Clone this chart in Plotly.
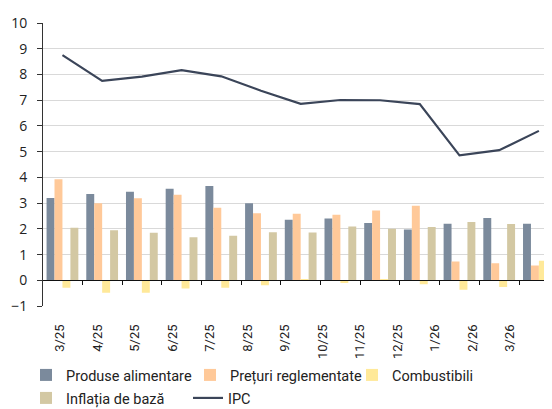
import plotly.graph_objects as go

categories = ["3/25", "4/25", "5/25", "6/25", "7/25", "8/25", "9/25", "10/25",
              "11/25", "12/25", "1/26", "2/26", "3/26"]
produse_alimentare = [3.2, 3.36, 3.45, 3.56, 3.67, 3.0, 2.36, 2.41, 2.23, 1.98, 2.2, 2.43, 2.2]
preturi_reglementate = [3.93, 3.0, 3.19, 3.33, 2.82, 2.61, 2.59, 2.55, 2.72, 2.9, 0.74, 0.67, 0.58]
combustibili = [-0.28, -0.48, -0.48, -0.31, -0.28, -0.19, 0.02, -0.1, 0.03, -0.15, -0.36, -0.25, 0.77]
inflatia_de_baza = [2.05, 1.95, 1.85, 1.68, 1.74, 1.87, 1.86, 2.1, 2.01, 2.08, 2.27, 2.19, 2.18]
ipc = [8.75, 7.75, 7.92, 8.17, 7.93, 7.37, 6.86, 7.01, 7.0, 6.85, 4.86, 5.06, 5.81]
y_ticks = list(range(-1, 11))

# figure is placed by the page at (8, 8)
W, H = 544, 401
LEG_FONT = dict(family="Roboto", size=14.5, color="#222")


def leg_x(page_text_x):
    return (page_text_x - 8 - 42) / W


ROW1_Y = 34 / H
ROW2_Y = 11 / H

fig = go.Figure()
bar_series = [
    ("Produse alimentare", produse_alimentare, "#7b8a9c", "legend"),
    ("Prețuri reglementate", preturi_reglementate, "#ffc999", "legend2"),
    ("Combustibili", combustibili, "#ffe999", "legend3"),
    ("Inflația de bază", inflatia_de_baza, "#d3c8a3", "legend4"),
]
for name, vals, col, lg in bar_series:
    fig.add_trace(go.Bar(x=categories, y=vals, name=name, marker_color=col,
                         marker_line_width=0, legend=lg, xaxis="x2"))
fig.add_trace(go.Scatter(x=categories, y=ipc, name="IPC", mode="lines", xaxis="x2",
                         line=dict(color="#3b4559", width=2.2), legend="legend5"))
# helper trace carrying the category labels axis
fig.add_trace(go.Scatter(x=categories, y=[0] * len(categories), xaxis="x", mode="markers",
                         marker=dict(opacity=0), showlegend=False, hoverinfo="skip"))


def legend_cfg(x, y):
    return dict(orientation="h", xref="container", yref="container",
                x=x, y=y, xanchor="left", yanchor="middle",
                font=LEG_FONT, bgcolor="rgba(0,0,0,0)")


fig.update_layout(
    width=W, height=H,
    margin=dict(l=35, r=0, t=15, b=100),
    paper_bgcolor="white", plot_bgcolor="white",
    barmode="group", bargap=0.2, bargroupgap=0,
    font=dict(family="Roboto", color="#222"),
    xaxis=dict(type="category", categoryarray=categories, range=[-0.453, 13.12],
               showline=False, showgrid=False, zeroline=False,
               ticks="outside", ticklen=12, tickcolor="rgba(0,0,0,0)", tickangle=-90,
               tickfont=dict(family="Roboto", size=13, color="#222")),
    xaxis2=dict(type="category", categoryarray=categories, range=[-0.49, 12.33],
                overlaying="x", anchor="free", position=1 / 11,
                showline=True, linecolor="#111", linewidth=1,
                ticks="outside", ticklen=4, tickcolor="#111", tickson="boundaries",
                showticklabels=False, showgrid=False, zeroline=False),
    yaxis=dict(range=[-1, 10], tickvals=y_ticks, showgrid=True, gridcolor="#d9d9d9",
               gridwidth=1, zeroline=False, showline=True, linecolor="#333",
               ticks="outside", ticklen=5, tickcolor="#333",
               tickfont=dict(family="Open Sans", size=14, color="#222"),
               ticklabelstandoff=7),
    legend=legend_cfg(leg_x(68), ROW1_Y),
    legend2=legend_cfg(leg_x(232), ROW1_Y),
    legend3=legend_cfg(leg_x(394), ROW1_Y),
    legend4=legend_cfg(leg_x(68), ROW2_Y),
    legend5=legend_cfg(leg_x(230), ROW2_Y),
)
fig.write_html("out.html")
